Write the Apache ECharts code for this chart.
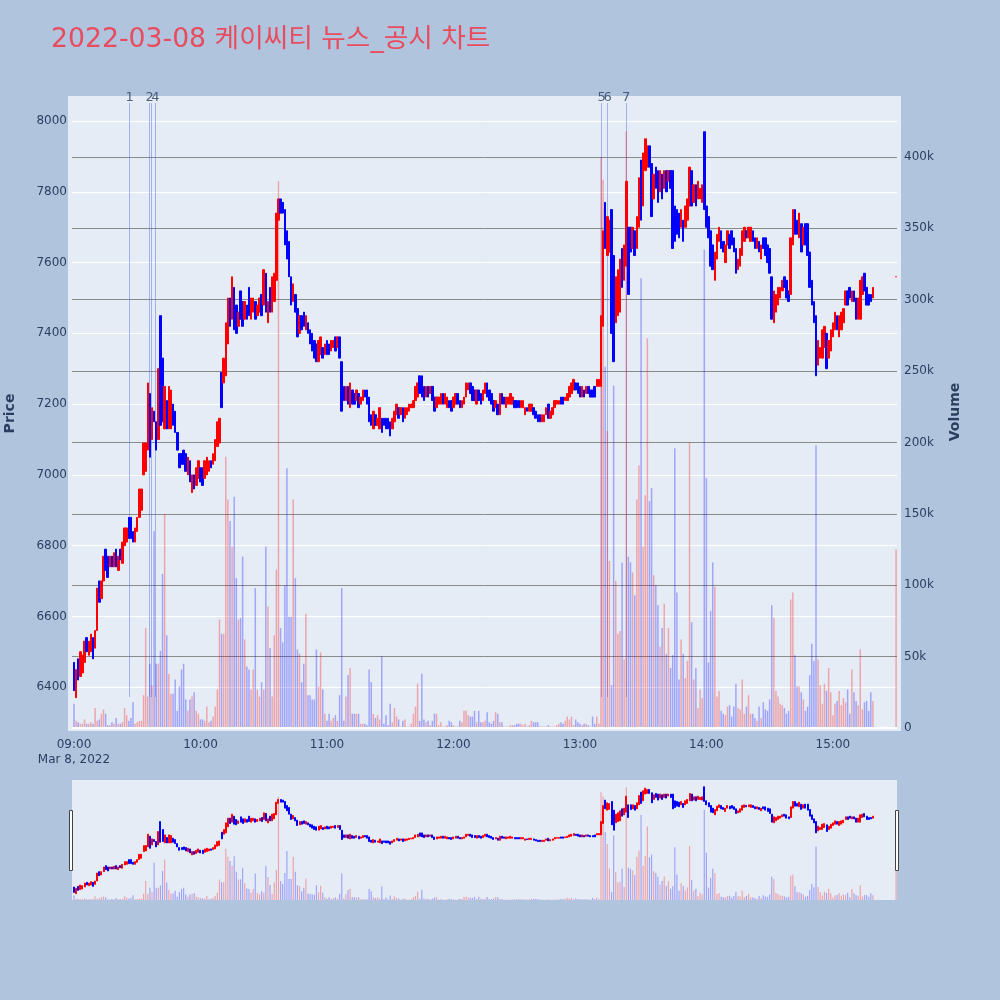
<!DOCTYPE html>
<html><head><meta charset="utf-8">
<script src="https://cdn.jsdelivr.net/npm/echarts@6/dist/echarts.min.js"></script>
<style>html,body{margin:0;padding:0;background:#B0C4DE;}#c{width:1000px;height:1000px;}</style>
</head><body><div id="c"></div>
<script>
// minute index from 09:00 (0..379 = 09:00..15:19, plus closing auction 15:30)
const lows = [
6390,6370,6420,6430,6440,6470,6500,6490,6500,6480,
6510,6560,6640,6650,6700,6730,6710,6740,6740,6740,
6740,6730,6760,6750,6800,6810,6820,6820,6810,6810,
6840,6880,6900,7000,7010,7070,7050,7100,7150,7070,
7100,7140,7150,7130,7130,7130,7130,7140,7120,7070,
7020,7030,7030,7010,7000,6980,6950,6960,6970,6990,
6980,6970,6990,7000,7010,7020,7030,7040,7080,7090,
7190,7260,7280,7370,7420,7440,7410,7400,7420,7440,
7420,7440,7440,7450,7440,7460,7440,7450,7460,7450,
7480,7460,7430,7460,7460,7490,7550,7720,7740,7740,
7650,7610,7560,7480,7490,7460,7390,7400,7410,7420,
7410,7400,7370,7350,7330,7320,7320,7340,7330,7340,
7340,7340,7350,7360,7350,7360,7330,7180,7210,7210,
7200,7190,7200,7200,7210,7190,7200,7210,7220,7200,
7150,7140,7130,7140,7140,7130,7120,7140,7130,7130,
7110,7130,7150,7170,7160,7170,7150,7160,7170,7180,
7190,7190,7210,7220,7230,7220,7210,7220,7220,7230,
7210,7180,7190,7200,7200,7200,7200,7190,7190,7180,
7190,7200,7200,7190,7190,7200,7220,7240,7230,7210,
7210,7200,7210,7200,7210,7230,7220,7210,7200,7180,
7190,7170,7170,7200,7200,7190,7200,7200,7200,7190,
7190,7190,7190,7190,7170,7180,7180,7180,7170,7160,
7150,7150,7150,7150,7170,7160,7160,7170,7190,7200,
7200,7200,7200,7210,7210,7220,7230,7240,7240,7230,
7220,7220,7220,7230,7230,7220,7220,7220,7250,7250,
7250,7420,7640,7620,7630,7400,7320,7430,7450,7460,
7530,7550,7590,7510,7630,7640,7620,7640,7700,7720,
7760,7860,7870,7870,7730,7780,7810,7770,7800,7780,
7810,7800,7830,7810,7640,7660,7680,7670,7700,7660,
7700,7720,7760,7760,7770,7760,7780,7780,7770,7750,
7700,7670,7590,7580,7550,7610,7660,7640,7630,7600,
7650,7640,7650,7630,7570,7580,7590,7620,7660,7670,
7670,7660,7660,7640,7640,7630,7610,7640,7620,7600,
7570,7440,7430,7460,7480,7500,7520,7530,7500,7490,
7510,7650,7680,7680,7670,7630,7650,7650,7620,7530,
7480,7430,7280,7310,7330,7330,7360,7300,7330,7350,
7390,7410,7410,7390,7410,7430,7480,7480,7500,7490,
7490,7440,7440,7440,7510,7520,7480,7480,7490,7500,
7560];
const highs = [
6470,6450,6480,6500,6490,6530,6540,6530,6550,6540,
6560,6680,6700,6700,6770,6790,6770,6770,6770,6780,
6790,6770,6790,6810,6850,6850,6880,6880,6840,6850,
6880,6960,6960,7090,7090,7260,7230,7190,7180,7150,
7300,7450,7330,7250,7210,7250,7240,7200,7180,7120,
7060,7060,7070,7060,7050,7040,7000,7000,7020,7040,
7020,7020,7040,7050,7040,7040,7060,7100,7150,7160,
7290,7330,7430,7500,7500,7560,7530,7480,7460,7520,
7490,7490,7480,7530,7500,7500,7490,7480,7500,7510,
7580,7570,7490,7530,7560,7570,7740,7780,7780,7770,
7750,7690,7660,7560,7540,7510,7470,7450,7450,7460,
7450,7430,7410,7400,7380,7370,7380,7390,7360,7370,
7380,7370,7380,7380,7390,7390,7390,7320,7250,7250,
7250,7260,7240,7230,7240,7230,7220,7240,7240,7240,
7220,7170,7180,7170,7160,7190,7160,7160,7160,7160,
7150,7160,7180,7200,7190,7190,7190,7190,7190,7200,
7200,7210,7250,7260,7280,7280,7250,7250,7250,7250,
7250,7220,7220,7220,7230,7230,7230,7220,7210,7210,
7220,7230,7230,7210,7210,7220,7260,7260,7260,7250,
7240,7240,7240,7230,7240,7260,7260,7240,7230,7210,
7210,7200,7230,7230,7220,7220,7220,7230,7220,7210,
7210,7210,7210,7210,7190,7190,7200,7200,7190,7180,
7170,7170,7170,7170,7190,7200,7180,7190,7210,7210,
7210,7220,7220,7220,7230,7250,7260,7270,7260,7260,
7250,7250,7240,7250,7250,7240,7240,7250,7270,7270,
7450,7690,7770,7730,7720,7750,7620,7560,7580,7610,
7640,7650,7830,7700,7700,7700,7690,7730,7840,7890,
7910,7950,7930,7930,7880,7850,7870,7860,7860,7850,
7860,7860,7860,7860,7860,7760,7750,7740,7750,7720,
7760,7780,7870,7860,7820,7820,7830,7810,7820,7970,
7760,7730,7690,7650,7630,7680,7700,7690,7660,7650,
7690,7680,7690,7670,7640,7610,7640,7690,7700,7690,
7700,7700,7690,7670,7670,7660,7650,7670,7670,7650,
7640,7560,7520,7510,7530,7530,7550,7560,7550,7520,
7670,7750,7750,7720,7740,7710,7700,7710,7710,7630,
7550,7490,7450,7380,7360,7410,7420,7400,7380,7410,
7430,7460,7450,7450,7460,7470,7520,7520,7530,7520,
7520,7500,7500,7550,7560,7570,7530,7510,7510,7530,
7560];
// U = rose (close above open), D = fell
const dirs = (
"DUDUUUDUUD"+"UUDUUDDUDU"+"DUDUUUDDDU"+"UUUUUUDUDD"+"UDDUDUUDDD"+
"DDDDUDUDUU"+"DDUUUDUUUU"+"DUUUDUDDUD"+"DUDDUUDUUD"+"UDUDUUUUDD"+
"DDDDUDDUDD"+"UDDDDDUUDU"+"DDUUDUDDDU"+"DUDDUDUUDD"+"DDUDUUDDDD"+
"DUUUDUDUUU"+"UUUUDDDUDU"+"DDUUUDUUDD"+"UUDDUUUUDD"+"DUDDUUDDDD"+
"UDUDDUUUUD"+"DDUUUDUUDD"+"DDUUUDUUUU"+"UDDUUUUUDD"+"DUDUDDDDUU"+
"UUDUUDDUUU"+"DUUDDUDUUD"+"UUUDDUDDUD"+"UDUDDDDDUD"+"UUUDUDUUUD"+
"DDDDUUUDDU"+"UDDDDUUUUD"+"UUDDUDUDDD"+"DDUUUUUDDD"+"UUDDUDUDDD"+
"DDDUUUUDUU"+"UUDUUUUDDU"+"DDUUUDDDDU"+"U").split('');
const volumesK = [
17,5,4,3,3,6,3,3,4,3, 14,5,6,10,13,10,2,2,4,3, 7,3,3,4,14,9,5,7,18,3,
4,5,5,23,70,22,45,30,138,45, 45,54,108,150,65,38,24,24,34,12, 29,41,45,20,12,20,22,25,12,10,
6,6,5,15,4,5,8,15,27,76, 66,66,190,160,145,127,162,105,76,77, 120,62,43,41,27,41,98,27,22,32,
27,127,85,56,22,65,111,383,70,60, 100,182,78,78,160,105,55,52,32,45, 80,23,23,20,20,55,29,53,27,10,
5,10,5,7,9,5,23,98,5,22, 37,42,10,10,10,10,3,3,3,2, 41,32,10,7,9,6,50,3,9,2,
17,4,14,8,6,1,5,6,1,1, 3,10,15,31,5,38,6,4,5,2, 5,10,10,2,4,1,1,2,5,4,
2,1,1,5,4,12,12,9,8,8, 12,4,12,4,4,5,11,4,3,5, 11,10,4,4,1,1,1,2,2,2,
3,3,3,2,3,1,2,5,4,4, 4,1,1,1,1,2,1,1,1,2, 3,4,3,5,8,6,8,2,6,4,
3,2,3,3,2,1,8,3,8,3, 400,384,253,208,117,30,240,103,66,68, 116,48,418,120,116,109,93,160,184,315,
127,163,273,159,168,107,100,86,57,70, 87,52,70,42,51,196,95,34,62,52, 35,47,200,74,34,42,14,27,21,335,
175,46,82,116,99,22,26,12,10,9, 15,16,8,15,31,14,13,34,10,15, 23,10,10,7,5,15,7,18,13,12,
20,86,77,26,22,17,16,14,10,12, 90,95,51,29,29,25,20,12,15,37, 59,47,198,48,30,17,31,26,42,25,
9,17,19,26,16,21,18,27,10,41, 25,19,16,55,13,18,19,12,25,19,
125];
const newsMinutes = [26.4, 35.9, 36.7, 38.6, 250.3, 253.2, 261.9];
const newsLabels = ['1', '2', '', '4', '5', '6', '7'];
const newsSpan = [6372, 8051];
const hourTicks = [0, 60, 120, 180, 240, 300, 360];
const hourLabels = ['09:00\nMar 8, 2022', '10:00', '11:00', '12:00', '13:00', '14:00', '15:00'];
const chartTitle = '2022-03-08 케이씨티 뉴스_공시 차트';

const minutes = [];
for (let i = 0; i < 380; i++) minutes.push(i);
minutes.push(390);

const UP = '#ff0000', DOWN = '#0000ff';
const candleData = minutes.map((m, i) => {
  const up = dirs[i] === 'U';
  const o = up ? lows[i] : highs[i];
  const c = up ? highs[i] : lows[i];
  return [m, o, c, lows[i], highs[i]];
});
const volData = minutes.map((m, i) => ({
  value: [m, volumesK[i] * 1000],
  itemStyle: { color: dirs[i] === 'U' ? 'rgba(255,0,0,0.3)' : 'rgba(0,0,255,0.3)' }
}));

const FONT = "'DejaVu Sans', 'Noto Sans CJK KR', sans-serif";
const INK = '#2a3f5f';
const X_MIN = -0.95, X_MAX = 390.42;
const P_MIN = 6276, P_MAX = 8071;

const chart = echarts.init(document.getElementById('c'), null, { renderer: 'canvas' });
const xBase = { type: 'value', min: X_MIN, max: X_MAX, axisLine: { show: false }, axisTick: { show: false }, splitLine: { show: false } };
const gridBase = { outerBoundsMode: 'none', containLabel: false };
chart.setOption({
  animation: false,
  backgroundColor: '#B0C4DE',
  textStyle: { fontFamily: FONT },
  title: {
    text: chartTitle, left: 46, top: 22, padding: 5,
    textStyle: { color: '#e84c5e', fontSize: 26.7, fontWeight: 'normal', fontFamily: FONT }
  },
  graphic: [
    { type: 'rect', z: -10, silent: true, shape: { x: 68, y: 96, width: 833, height: 635 }, style: { fill: '#E5ECF6' } },
    { type: 'rect', z: -10, silent: true, shape: { x: 72, y: 780, width: 825, height: 120 }, style: { fill: '#E5ECF6' } },
    { type: 'rect', z: 100, shape: { x: 69.5, y: 810.5, width: 3, height: 60 }, style: { fill: '#fff', stroke: '#444', lineWidth: 1 } },
    { type: 'rect', z: 100, shape: { x: 895.5, y: 810.5, width: 3, height: 60 }, style: { fill: '#fff', stroke: '#444', lineWidth: 1 } }
  ],
  grid: [
    Object.assign({ left: 72, top: 96, width: 825, height: 635 }, gridBase),
    Object.assign({ left: 72, top: 96, width: 825, height: 632 }, gridBase),
    Object.assign({ left: 72, top: 780, width: 825, height: 120 }, gridBase)
  ],
  xAxis: [
    Object.assign({}, xBase, {
      gridIndex: 0,
      axisLabel: {
        customValues: hourTicks, margin: 6, color: INK, fontSize: 12, lineHeight: 15, fontFamily: FONT,
        formatter: v => hourLabels[hourTicks.indexOf(Math.round(v))] || ''
      }
    }),
    Object.assign({}, xBase, { gridIndex: 1, axisLabel: { show: false } }),
    Object.assign({}, xBase, { gridIndex: 2, axisLabel: { show: false } })
  ],
  yAxis: [
    {
      type: 'value', gridIndex: 0, position: 'left', min: P_MIN, max: P_MAX, splitNumber: 9,
      name: 'Price', nameLocation: 'middle', nameRotate: 90, nameGap: 55,
      nameTextStyle: { color: INK, fontSize: 14, fontWeight: 'bold', fontFamily: FONT },
      axisLine: { show: false }, axisTick: { show: false },
      axisLabel: { color: INK, fontSize: 12, margin: 5, showMinLabel: false, showMaxLabel: false, fontFamily: FONT,
        formatter: v => String(v) },
      splitLine: { show: true, showMinLine: false, showMaxLine: false, lineStyle: { color: '#ffffff', width: 1 } }
    },
    {
      type: 'value', gridIndex: 1, position: 'right', min: 0, max: 442700, interval: 50000,
      name: 'Volume', nameLocation: 'middle', nameRotate: 90, nameGap: 51,
      nameTextStyle: { color: INK, fontSize: 14, fontWeight: 'bold', fontFamily: FONT },
      axisLine: { show: false }, axisTick: { show: false },
      axisLabel: { color: INK, fontSize: 12, margin: 7, showMaxLabel: false, fontFamily: FONT,
        formatter: v => v === 0 ? '0' : (v / 1000) + 'k' },
      splitLine: { show: true, showMinLine: false, showMaxLine: false, lineStyle: { color: '#8a8a8a', width: 1 } }
    },
    { type: 'value', gridIndex: 2, min: P_MIN, max: P_MAX, show: false, splitLine: { show: false } },
    { type: 'value', gridIndex: 2, min: 0, max: 445000, show: false, splitLine: { show: false } }
  ],
  series: [
    {
      type: 'bar', xAxisIndex: 1, yAxisIndex: 1, data: volData, barWidth: 1.5, z: 1,
      markLine: { silent: true, symbol: 'none', label: { show: false },
        lineStyle: { color: '#ffffff', width: 2, type: 'solid' }, data: [{ yAxis: 0 }] }
    },
    {
      type: 'lines', coordinateSystem: 'cartesian2d', xAxisIndex: 0, yAxisIndex: 0, z: 1,
      lineStyle: { color: 'rgba(90,120,230,0.5)', width: 1, opacity: 1 },
      data: newsMinutes.map(m => ({ coords: [[m, newsSpan[0]], [m, newsSpan[1]]] }))
    },
    {
      type: 'candlestick', xAxisIndex: 0, yAxisIndex: 0, z: 3, barWidth: 2,
      encode: { x: 0, y: [1, 2, 3, 4] },
      itemStyle: { color: UP, color0: DOWN, borderColor: UP, borderColor0: DOWN, borderWidth: 1 },
      data: candleData
    },
    {
      type: 'scatter', xAxisIndex: 0, yAxisIndex: 0, z: 4, clip: false, symbolSize: 2,
      itemStyle: { color: 'rgba(0,0,0,0)' },
      label: { show: true, position: 'inside', color: INK, fontSize: 13, fontFamily: FONT,
        formatter: p => newsLabels[p.dataIndex] },
      data: newsMinutes.map(m => [m, 8066])
    },
    {
      type: 'bar', xAxisIndex: 2, yAxisIndex: 3, data: volData, barWidth: 1.2, z: 1
    },
    {
      type: 'candlestick', xAxisIndex: 2, yAxisIndex: 2, z: 3, barWidth: 1.5,
      encode: { x: 0, y: [1, 2, 3, 4] },
      itemStyle: { color: UP, color0: DOWN, borderColor: UP, borderColor0: DOWN, borderWidth: 1 },
      data: candleData
    }
  ]
});
</script></body></html>
